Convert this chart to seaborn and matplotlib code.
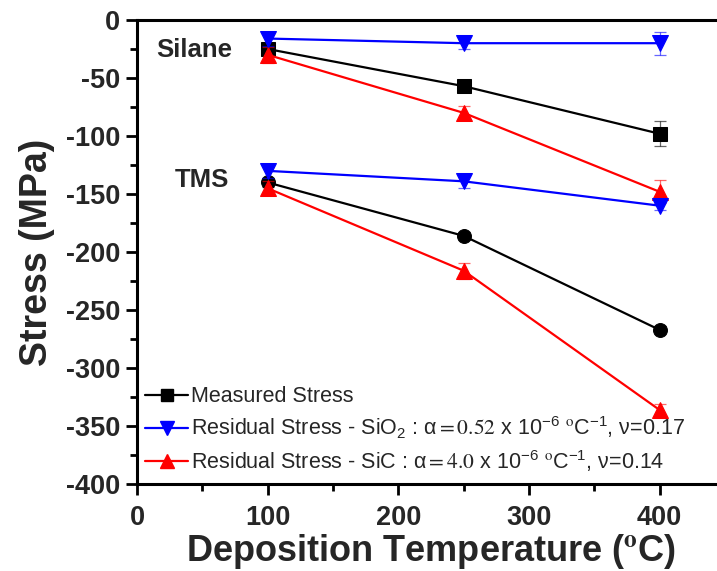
import matplotlib
matplotlib.use("Agg")
import matplotlib.pyplot as plt
from matplotlib.lines import Line2D
import numpy as np
import pandas as pd
import seaborn as sns

# Deposition temperatures (°C)
temperature = [100, 250, 400]

# Silane-based films (MPa)
silane_measured = [-25, -57, -98]
silane_measured_err = [5, 4, 11]
silane_sio2 = [-16, -20, -20]
silane_sio2_err = [6, 5, 10]
silane_sic = [-30, -80, -148]
silane_sic_err = [7, 6, 10]

# TMS-based films (MPa)
tms_measured = [-140, -186, -267]
tms_measured_err = [4, 3, 3]
tms_sio2 = [-130, -139, -160]
tms_sio2_err = [6, 6, 4]
tms_sic = [-145, -216, -336]
tms_sic_err = [6, 7, 5]

legend_labels = [
    "Measured Stress",
    r"Residual Stress - SiO$_2$ : $\alpha\mathrm{=0.52}$ x 10$^{-6}$ $^{\mathrm{o}}$C$^{-1}$, $\nu$=0.17",
    r"Residual Stress - SiC : $\alpha\mathrm{=4.0}$ x 10$^{-6}$ $^{\mathrm{o}}$C$^{-1}$, $\nu$=0.14",
]

sns.set_theme(style="ticks")
plt.rcParams["font.family"] = ["Liberation Sans", "DejaVu Sans"]
plt.rcParams["mathtext.fontset"] = "stix"
plt.rcParams["mathtext.default"] = "regular"
plt.rcParams["axes.unicode_minus"] = False

fig = plt.figure(figsize=(7.17, 5.71), dpi=100)
ax = fig.add_axes([0.191, 0.152, 0.82, 0.813])

series = [
    # (values, errors, colour, marker, size, zorder)
    (silane_measured, silane_measured_err, "black", "s", 10, 3),
    (silane_sic, silane_sic_err, "#ff0000", "^", 11, 4),
    (silane_sio2, silane_sio2_err, "#0000ff", "v", 11, 5),
    (tms_measured, tms_measured_err, "black", "o", 10, 3),
    (tms_sic, tms_sic_err, "#ff0000", "^", 11, 4),
    (tms_sio2, tms_sio2_err, "#0000ff", "v", 11, 5),
]

for vals, errs, col, mk, ms, z in series:
    df = pd.DataFrame({"T": temperature, "S": vals})
    ax.errorbar(df["T"], df["S"], yerr=errs, fmt="none", ecolor=col,
                elinewidth=0.9, capsize=4, capthick=0.9, alpha=0.6, zorder=z - 0.5)
    sns.lineplot(data=df, x="T", y="S", ax=ax, color=col, marker=mk,
                 markersize=ms, markeredgecolor=col, linewidth=1.6,
                 zorder=z, legend=False)

ax.text(44, -26, "Silane", fontsize=18.5, fontweight="bold", ha="center", va="center")
ax.text(50, -138, "TMS", fontsize=18.5, fontweight="bold", ha="center", va="center")

ax.set_xlim(0, 450)
ax.set_ylim(-400, 0)
ax.set_xticks([0, 100, 200, 300, 400])
ax.set_xticks([50, 150, 250, 350], minor=True)
ax.set_yticks(np.arange(-400, 1, 50))
ax.set_yticks(np.arange(-375, 0, 50), minor=True)

ax.tick_params(axis="x", which="major", pad=7)
ax.tick_params(axis="y", which="major", pad=4)
ax.tick_params(axis="both", which="major", direction="out", length=8, width=2,
               labelsize=19.5, color="black")
ax.tick_params(axis="both", which="minor", direction="out", length=5, width=2,
               color="black")
for lab in ax.get_xticklabels() + ax.get_yticklabels():
    lab.set_fontweight("bold")

for sp in ax.spines.values():
    sp.set_linewidth(2.2)
    sp.set_color("black")

ax.set_xlabel(r"Deposition Temperature ($^{\mathbf{o}}$C)", fontsize=26,
              fontweight="bold", labelpad=1)
ax.set_ylabel("Stress (MPa)", fontsize=27, fontweight="bold", labelpad=8)

handles = [
    Line2D([], [], color="black", marker="s", markersize=9, linewidth=1.6),
    Line2D([], [], color="#0000ff", marker="v", markersize=10, linewidth=1.6),
    Line2D([], [], color="#ff0000", marker="^", markersize=10, linewidth=1.6),
]
ax.legend(handles, legend_labels, loc="lower left", bbox_to_anchor=(-0.008, -0.005),
          frameon=False, fontsize=15.5, handlelength=2.0, handletextpad=0.15,
          labelspacing=0.32, borderaxespad=0.2)

fig.savefig("out.png", dpi=100)
